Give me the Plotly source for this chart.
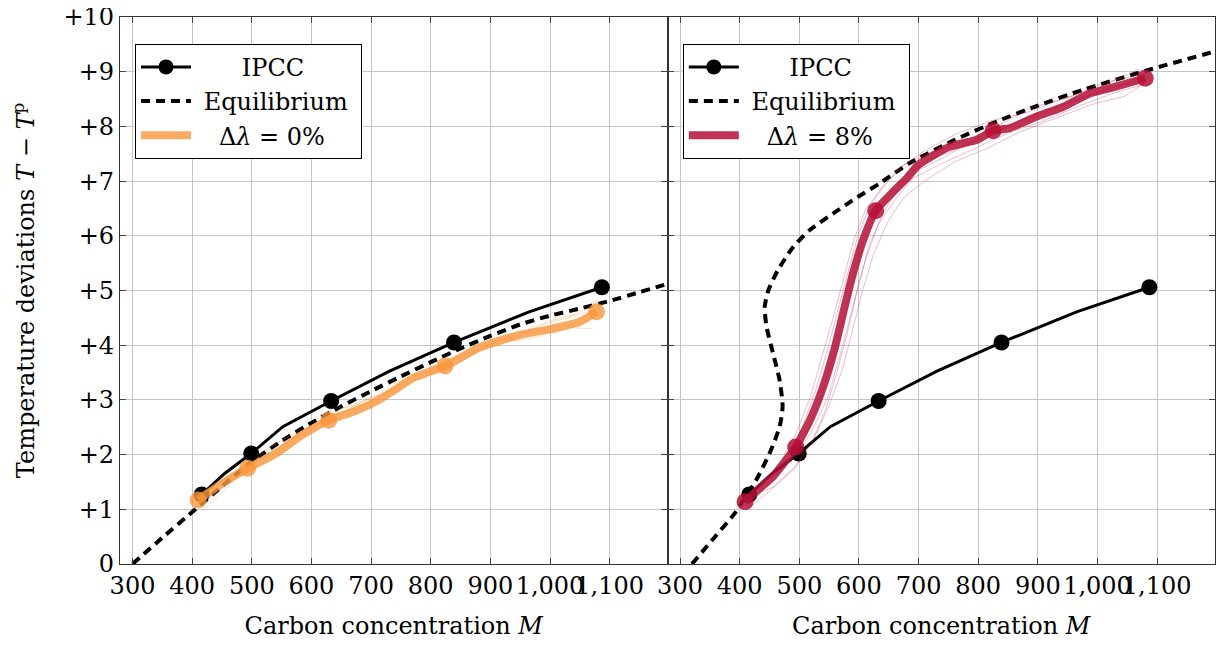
import plotly.graph_objects as go
from plotly.subplots import make_subplots

# ---------------- data ----------------
x_ticks = [300, 400, 500, 600, 700, 800, 900, 1000, 1100]
y_ticks = [0, 1, 2, 3, 4, 5, 6, 7, 8, 9, 10]
y_ticktext = ["0", "+1", "+2", "+3", "+4", "+5", "+6", "+7", "+8", "+9", "+10"]

ipcc_x = [416, 455, 499, 552, 633, 730, 839, 965, 1087]
ipcc_y = [1.27, 1.66, 2.02, 2.51, 2.98, 3.52, 4.05, 4.61, 5.06]
ipcc_marked = [0, 2, 4, 6, 8]

eq_left_x = [300, 350, 400, 450, 500, 550, 600, 650, 700, 750, 800, 850, 900, 950, 1000, 1050, 1100, 1150, 1197]
eq_left_y = [0.0, 0.48, 0.95, 1.42, 1.87, 2.25, 2.58, 2.88, 3.16, 3.43, 3.69, 3.94, 4.17, 4.38, 4.54, 4.67, 4.81, 4.97, 5.12]

eq_right_x = [320, 358, 392, 428, 450, 467, 472, 467, 456, 445, 442, 448, 464, 490, 518, 557, 598, 635, 685, 760, 831, 900, 976, 1088, 1197]
eq_right_y = [0.0, 0.49, 0.93, 1.54, 2.02, 2.51, 2.88, 3.36, 3.85, 4.34, 4.70, 5.00, 5.37, 5.80, 6.11, 6.41, 6.71, 6.96, 7.33, 7.75, 8.09, 8.38, 8.67, 9.04, 9.37]

dl0_x = [410, 446, 493, 541, 580, 629, 669, 710, 745, 770, 824, 882, 949, 994, 1050, 1078]
dl0_y = [1.17, 1.44, 1.75, 2.02, 2.33, 2.63, 2.78, 2.98, 3.22, 3.40, 3.62, 3.96, 4.19, 4.28, 4.43, 4.61]
dl0_marked = [0, 2, 5, 10, 15]

dl0_ens1_x = [405, 440, 480, 520, 560, 600, 640, 690, 740, 790, 840, 900, 950, 1000, 1050, 1075]
dl0_ens1_y = [1.05, 1.40, 1.62, 1.95, 2.25, 2.45, 2.72, 2.90, 3.25, 3.40, 3.75, 4.02, 4.10, 4.35, 4.38, 4.55]
dl0_ens2_x = [415, 450, 490, 530, 575, 615, 660, 700, 745, 800, 850, 905, 960, 1010, 1055, 1085]
dl0_ens2_y = [0.95, 1.30, 1.78, 2.05, 2.20, 2.60, 2.82, 3.05, 3.15, 3.55, 3.70, 4.05, 4.25, 4.22, 4.50, 4.70]
dl0_ens3_x = [410, 445, 485, 525, 565, 610, 650, 695, 735, 785, 835, 885, 935, 990, 1040, 1070]
dl0_ens3_y = [1.25, 1.50, 1.70, 2.10, 2.35, 2.55, 2.85, 2.95, 3.30, 3.48, 3.60, 3.92, 4.20, 4.30, 4.55, 4.40]
dl0_ens4_x = [420, 455, 500, 545, 590, 630, 675, 720, 760, 810, 860, 915, 970, 1020, 1065, 1080]
dl0_ens4_y = [1.30, 1.55, 1.85, 2.15, 2.40, 2.72, 2.85, 3.10, 3.35, 3.62, 3.85, 4.00, 4.32, 4.48, 4.62, 4.85]
dl0_ens5_x = [408, 438, 470, 510, 550, 590, 635, 680, 725, 775, 825, 875, 925, 980, 1030, 1072]
dl0_ens5_y = [1.10, 1.28, 1.58, 1.90, 2.15, 2.48, 2.66, 2.95, 3.12, 3.38, 3.55, 3.85, 4.05, 4.15, 4.32, 4.30]
dl0_ens6_x = [412, 448, 488, 535, 580, 622, 665, 705, 750, 795, 845, 895, 945, 995, 1045, 1082]
dl0_ens6_y = [1.20, 1.52, 1.82, 2.00, 2.38, 2.68, 2.90, 3.05, 3.30, 3.58, 3.82, 4.10, 4.15, 4.42, 4.58, 4.75]

dl8_x = [409, 430, 456, 494, 518, 540, 560, 576, 590, 607, 628, 657, 680, 700, 752, 797, 825, 853, 898, 943, 987, 1032, 1080]
dl8_y = [1.14, 1.35, 1.60, 2.14, 2.63, 3.24, 3.97, 4.70, 5.31, 5.92, 6.46, 6.80, 7.05, 7.30, 7.63, 7.75, 7.92, 7.97, 8.18, 8.36, 8.60, 8.73, 8.88]
dl8_marked = [0, 3, 10, 16, 22]

dl8_ens1_x = [405, 440, 480, 510, 535, 555, 572, 588, 605, 625, 650, 680, 720, 780, 840, 900, 960, 1020, 1075]
dl8_ens1_y = [1.10, 1.45, 1.85, 2.35, 3.00, 3.70, 4.40, 5.10, 5.80, 6.35, 6.75, 7.10, 7.40, 7.65, 7.95, 8.25, 8.45, 8.70, 8.85]
dl8_ens2_x = [415, 450, 490, 520, 548, 568, 585, 600, 618, 640, 665, 700, 745, 800, 860, 920, 980, 1040, 1085]
dl8_ens2_y = [1.05, 1.50, 1.95, 2.40, 3.05, 3.80, 4.50, 5.15, 5.85, 6.40, 6.85, 7.20, 7.45, 7.80, 8.05, 8.30, 8.55, 8.75, 8.95]
dl8_ens3_x = [410, 445, 470, 495, 520, 540, 558, 575, 592, 612, 640, 670, 710, 760, 820, 880, 940, 1000, 1070]
dl8_ens3_y = [1.20, 1.55, 1.90, 2.40, 3.10, 3.85, 4.55, 5.25, 5.95, 6.50, 6.90, 7.25, 7.55, 7.85, 8.10, 8.25, 8.50, 8.70, 9.05]
dl8_ens4_x = [420, 455, 495, 525, 550, 572, 590, 606, 624, 648, 675, 710, 760, 815, 870, 930, 990, 1045, 1080]
dl8_ens4_y = [1.25, 1.40, 1.80, 2.30, 2.90, 3.55, 4.30, 5.00, 5.65, 6.25, 6.70, 7.00, 7.35, 7.60, 7.90, 8.15, 8.40, 8.55, 8.80]
dl8_ens5_x = [408, 448, 485, 505, 528, 548, 565, 582, 598, 618, 645, 675, 715, 770, 830, 890, 950, 1010, 1072]
dl8_ens5_y = [1.15, 1.60, 2.05, 2.50, 3.20, 3.95, 4.65, 5.35, 6.00, 6.55, 6.95, 7.30, 7.50, 7.70, 8.00, 8.35, 8.52, 8.80, 8.95]
dl8_ens6_x = [418, 452, 492, 522, 545, 563, 580, 595, 612, 632, 660, 690, 735, 790, 850, 910, 970, 1030, 1082]
dl8_ens6_y = [1.05, 1.35, 1.75, 2.25, 2.85, 3.50, 4.20, 4.90, 5.60, 6.20, 6.65, 7.05, 7.30, 7.58, 7.88, 8.10, 8.38, 8.62, 8.78]

legend_labels = ["IPCC", "Equilibrium"]

# ---------------- style ----------------
FONT = "DejaVu Serif"
FS = 24
NB = "\u00a0"
ORANGE = "rgba(247,150,60,0.8)"
ORANGE_THIN = "rgba(247,150,60,0.28)"
CRIMSON = "rgba(180,15,55,0.85)"
CRIMSON_THIN = "rgba(200,30,70,0.3)"

fig = make_subplots(rows=1, cols=2, shared_yaxes=True, horizontal_spacing=0)


def sizes(n, marked, s):
    return [s if i in marked else 0 for i in range(n)]


def panel(col, eq_x, eq_y, main_x, main_y, main_marked, ens, color, thin, label, legend):
    # legend-only entries (labels padded to look centred)
    fig.add_trace(go.Scatter(
        x=[None], y=[None], mode="lines+markers", name=NB * 6 + legend_labels[0], legend=legend,
        line=dict(color="black", width=3), marker=dict(size=15, color="black", opacity=1),
    ), row=1, col=col)
    fig.add_trace(go.Scatter(
        x=[None], y=[None], mode="lines", name=NB + legend_labels[1] + NB, legend=legend,
        line=dict(color="black", width=4, dash="9px,6px"),
    ), row=1, col=col)
    fig.add_trace(go.Scatter(
        x=[None], y=[None], mode="lines", name=NB * 3 + label, legend=legend,
        line=dict(color=color, width=8),
    ), row=1, col=col)

    fig.add_trace(go.Scatter(
        x=ipcc_x, y=ipcc_y, mode="lines+markers", showlegend=False,
        line=dict(color="black", width=3),
        marker=dict(size=sizes(len(ipcc_x), ipcc_marked, 16), color="black", opacity=1, line=dict(width=0)),
    ), row=1, col=col)
    fig.add_trace(go.Scatter(
        x=eq_x, y=eq_y, mode="lines", showlegend=False,
        line=dict(color="black", width=4, dash="9px,6px", shape="spline", smoothing=0.6),
    ), row=1, col=col)
    for ex, ey in ens:
        fig.add_trace(go.Scatter(
            x=ex, y=ey, mode="lines", showlegend=False, hoverinfo="skip",
            line=dict(color=thin, width=1),
        ), row=1, col=col)
    fig.add_trace(go.Scatter(
        x=main_x, y=main_y, mode="lines+markers", showlegend=False,
        line=dict(color=color, width=8, shape="spline", smoothing=0.5),
        marker=dict(size=sizes(len(main_x), main_marked, 17), color=color, opacity=1, line=dict(width=0)),
    ), row=1, col=col)


panel(1, eq_left_x, eq_left_y, dl0_x, dl0_y, dl0_marked,
      [(dl0_ens1_x, dl0_ens1_y), (dl0_ens2_x, dl0_ens2_y), (dl0_ens3_x, dl0_ens3_y),
       (dl0_ens4_x, dl0_ens4_y), (dl0_ens5_x, dl0_ens5_y), (dl0_ens6_x, dl0_ens6_y)],
      ORANGE, ORANGE_THIN, "Δ<i>λ</i> = 0%", "legend")
panel(2, eq_right_x, eq_right_y, dl8_x, dl8_y, dl8_marked,
      [(dl8_ens1_x, dl8_ens1_y), (dl8_ens2_x, dl8_ens2_y), (dl8_ens3_x, dl8_ens3_y),
       (dl8_ens4_x, dl8_ens4_y), (dl8_ens5_x, dl8_ens5_y), (dl8_ens6_x, dl8_ens6_y)],
      CRIMSON, CRIMSON_THIN, "Δ<i>λ</i> = 8%", "legend2")

axis_common = dict(
    ticks="inside", ticklen=6, tickcolor="#444", showline=True, linecolor="#333", linewidth=1.3,
    mirror="ticks", showgrid=True, gridcolor="#c6c6c6", gridwidth=1, zeroline=False, automargin=False,
    ticklabeloverflow="allow",
    tickfont=dict(family=FONT, size=FS, color="black"),
)
for i, dom in ((1, [0, 0.5]), (2, [0.5, 1])):
    fig.update_layout(**{
        f"xaxis{'' if i == 1 else i}": dict(
            axis_common, domain=dom, range=[279, 1197], tickvals=x_ticks, tickformat=",", tickangle=0,
            title=dict(text="Carbon concentration <i>M</i>", font=dict(family=FONT, size=FS, color="black"), standoff=24),
        )
    })
fig.update_layout(
    yaxis=dict(axis_common, range=[0, 10], tickvals=y_ticks, ticktext=y_ticktext,
               title=dict(text="Temperature deviations <i>T</i> − <i>T</i><sup>p</sup>",
                          font=dict(family=FONT, size=FS, color="black"), standoff=40)),
    yaxis2=dict(axis_common, range=[0, 10], tickvals=y_ticks, showticklabels=False, matches="y"),
)

legend_style = dict(
    xanchor="left", yanchor="top", bgcolor="white", bordercolor="black", borderwidth=1,
    font=dict(family=FONT, size=FS, color="black"), itemwidth=50, tracegroupgap=0,
)
# page body adds an 8px offset: figure is 1213x632 placed at (8,8)
fig.update_layout(
    width=1213, height=632,
    margin=dict(l=112, r=6, t=9, b=76),
    paper_bgcolor="white", plot_bgcolor="white",
    font=dict(family=FONT, size=FS, color="black"),
    legend=dict(legend_style, x=0.0137, y=0.951),
    legend2=dict(legend_style, x=0.514, y=0.951),
)

fig.write_html("out.html")
